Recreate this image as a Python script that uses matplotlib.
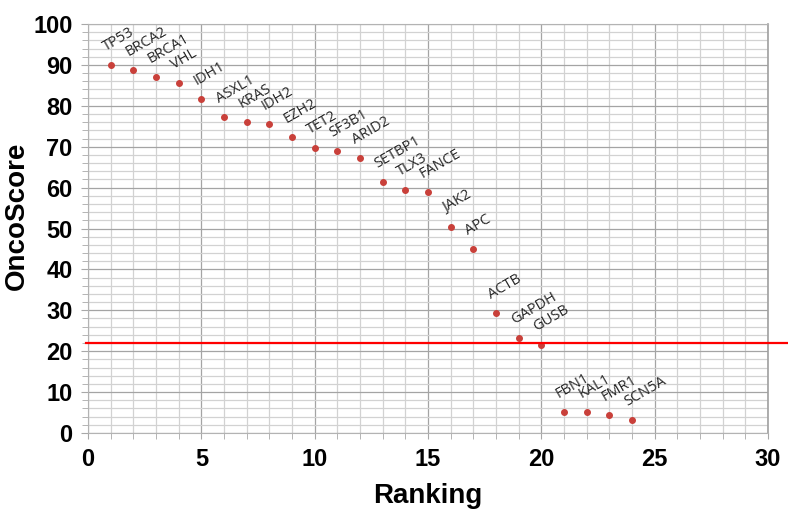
import matplotlib
matplotlib.use('Agg')
import matplotlib.pyplot as plt
from matplotlib.ticker import MultipleLocator

plt.rcParams['font.family'] = ['Liberation Sans', 'DejaVu Sans']

# genes in rank order and their OncoScore
genes = ['TP53', 'BRCA2', 'BRCA1', 'VHL', 'IDH1', 'ASXL1', 'KRAS', 'IDH2',
         'EZH2', 'TET2', 'SF3B1', 'ARID2', 'SETBP1', 'TLX3', 'FANCE', 'JAK2',
         'APC', 'ACTB', 'GAPDH', 'GUSB', 'FBN1', 'KAL1', 'FMR1', 'SCN5A']
ranking = list(range(1, len(genes) + 1))
oncoscore = [89.9, 88.8, 87.0, 85.6, 81.7, 77.2, 76.0, 75.5,
             72.3, 69.8, 68.9, 67.2, 61.4, 59.5, 58.9, 50.4,
             45.0, 29.4, 23.2, 21.4, 5.1, 5.1, 4.3, 3.1]
threshold = 22

fig = plt.figure(figsize=(7.88, 5.15), dpi=100)
ax = fig.add_axes([88 / 788, 1 - 433 / 515, 680 / 788, 409 / 515])

ax.set_xlim(0, 30)
ax.set_ylim(0, 100)
ax.xaxis.set_major_locator(MultipleLocator(5))
ax.xaxis.set_minor_locator(MultipleLocator(1))
ax.yaxis.set_major_locator(MultipleLocator(10))
ax.yaxis.set_minor_locator(MultipleLocator(2))

ax.set_axisbelow(True)
ax.grid(which='minor', color='#d2d2d2', lw=0.9)
ax.grid(which='major', color='#a4a4a4', lw=0.9)
for side in ['left', 'bottom', 'top']:
    ax.spines[side].set_color('#b3b3b3')
ax.spines['right'].set_color('#a0a0a0')
ax.spines['right'].set_linewidth(1.2)

ax.tick_params(which='both', direction='out', color='#a8a8a8', length=4)
ax.tick_params(axis='y', which='major', length=5, pad=6)
ax.tick_params(axis='x', which='major', pad=7)
for lab in ax.get_xticklabels() + ax.get_yticklabels():
    lab.set_fontsize(17)
    lab.set_fontweight('bold')

ax.plot(ranking, oncoscore, 'o', color='#c9403a', ms=4, zorder=3)

for g, r, s in zip(genes, ranking, oncoscore):
    ax.annotate(g, (r, s), xytext=(-5, 14), textcoords='offset pixels',
                rotation=30, rotation_mode='anchor', ha='left', va='baseline',
                fontsize=10.5, family='Open Sans', color='#262626')

# cut-off line, runs past the plot area to the right edge
ax.axhline(threshold, xmin=-0.003, xmax=700 / 680, color='red', lw=1.6,
           clip_on=False, zorder=4)

ax.set_xlabel('Ranking', fontsize=20, fontweight='bold', va='center')
ax.xaxis.set_label_coords(0.5, -(496 - 433) / 409)
ax.set_ylabel('OncoScore', fontsize=20, fontweight='bold', va='center')
ax.yaxis.set_label_coords(-(88 - 17) / 680, (433 - 216) / 409)

fig.savefig('out.png', dpi=100)
